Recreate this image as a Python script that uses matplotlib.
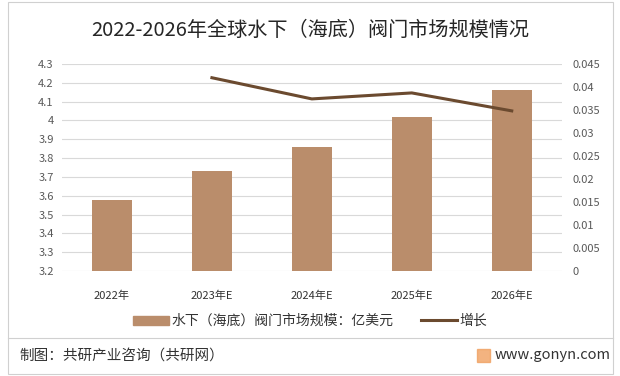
import matplotlib.pyplot as plt
from matplotlib.patches import Rectangle
from matplotlib.lines import Line2D

plt.rcParams['font.family'] = ['Noto Sans CJK SC', 'DejaVu Sans']

years = ['2022年', '2023年E', '2024年E', '2025年E', '2026年E']
market_size = [3.58, 3.73, 3.86, 4.02, 4.16]
growth_years = ['2023年E', '2024年E', '2025年E', '2026年E']
growth = [0.042, 0.0374, 0.0387, 0.0348]

bar_color = '#BA8D6B'
line_color = '#6B4A2F'
grid_color = '#D9D9D9'
text_color = '#595959'

fig = plt.figure(figsize=(6.2, 3.76), dpi=100)
fig.patches.append(Rectangle((0.013, 0.005), 0.975, 0.99, transform=fig.transFigure,
                             fill=False, edgecolor='#D0D0D0', linewidth=0.8))

ax = fig.add_axes([0.1, 0.279, 0.806, 0.551])
x = range(len(years))
ax.bar(x, [v - 3.2 for v in market_size], bottom=3.2, width=0.4, color=bar_color, zorder=2)
ax.set_ylim(3.2, 4.3)
ax.set_yticks([3.2 + 0.1 * i for i in range(12)])
ax.set_yticklabels(['3.2', '3.3', '3.4', '3.5', '3.6', '3.7', '3.8', '3.9', '4', '4.1', '4.2', '4.3'])
ax.set_xlim(-0.5, len(years) - 0.5)
ax.set_xticks(list(x))
ax.set_xticklabels(years)
ax.grid(axis='y', color=grid_color, linewidth=0.8, zorder=0)
for s in ax.spines.values():
    s.set_visible(False)
ax.tick_params(length=0, labelsize=8, colors=text_color, pad=6)
ax.tick_params(axis='x', pad=14, colors='#333333')

ax2 = ax.twinx()
gx = [years.index(g) for g in growth_years]
ax2.plot(gx, growth, color=line_color, linewidth=2.2, zorder=3)
ax2.set_ylim(0, 0.045)
ax2.set_yticks([0.005 * i for i in range(10)])
ax2.set_yticklabels(['0', '0.005', '0.01', '0.015', '0.02', '0.025', '0.03', '0.035', '0.04', '0.045'])
for s in ax2.spines.values():
    s.set_visible(False)
ax2.tick_params(length=0, labelsize=8, colors=text_color, pad=8)

fig.text(0.5, 0.918, '2022-2026年全球水下（海底）阀门市场规模情况', ha='center', va='center',
         fontsize=14.5, color='#262626')

handles = [Rectangle((0, 0), 1, 1, color=bar_color),
           Line2D([0], [0], color=line_color, linewidth=2.2)]
fig.legend(handles, ['水下（海底）阀门市场规模：亿美元', '增长'], loc='center',
           bbox_to_anchor=(0.5, 0.146), ncol=2, frameon=False, fontsize=10,
           handlelength=2.6, handleheight=0.6, handletextpad=0.15, columnspacing=2.0,
           labelcolor='#333333')

fig.add_artist(Line2D([0.013, 0.988], [0.1, 0.1], transform=fig.transFigure,
                      color='#D0D0D0', linewidth=0.8))
fig.text(0.032, 0.055, '制图：共研产业咨询（共研网）', ha='left', va='center', fontsize=10.5, color='#333333')
fig.patches.append(Rectangle((0.77, 0.037), 0.02, 0.035, transform=fig.transFigure,
                             color='#F0A060', alpha=0.8))
fig.text(0.798, 0.055, 'www.gonyn.com', ha='left', va='center', fontsize=10.5, color='#333333')

fig.savefig('out.png', dpi=100)
